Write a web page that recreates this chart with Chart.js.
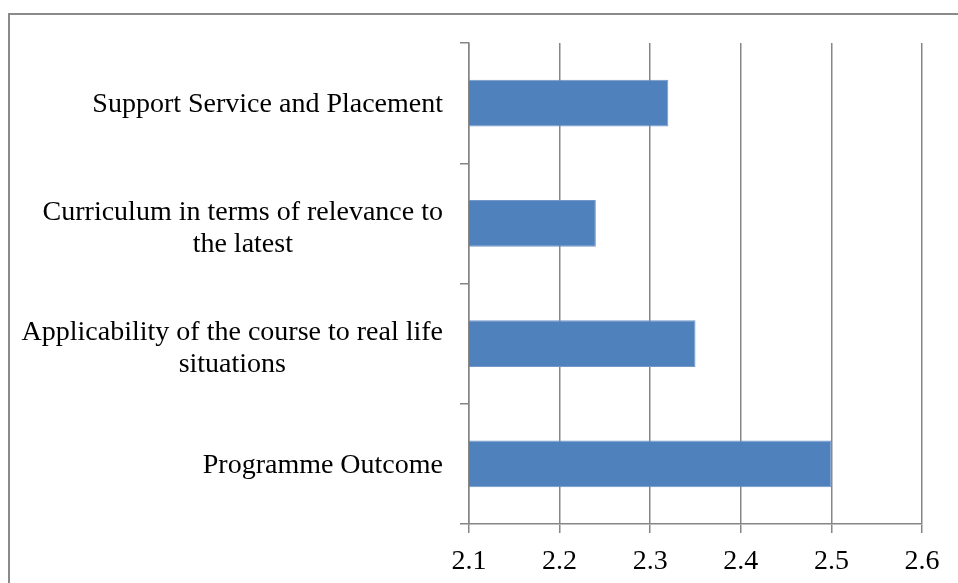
<!DOCTYPE html>
<html>
<head>
<meta charset="utf-8">
<script src="https://cdn.jsdelivr.net/npm/chart.js@4/dist/chart.umd.min.js"></script>
<style>
  html, body { margin: 0; padding: 0; background: #ffffff; overflow: hidden; }
  #frame { position: absolute; left: 8px; top: 13px; width: 1000px; height: 700px; border: 2px solid #8a8a8a; box-sizing: border-box; }
  #wrap { position: absolute; left: 0; top: 0; width: 958px; height: 583px; }
</style>
</head>
<body>
<div id="frame"></div>
<div id="wrap"><canvas id="c" width="958" height="583"></canvas></div>
<script>
const categories = [
  "Support Service and Placement",
  ["Curriculum in terms of relevance to", "the latest"],
  ["Applicability of the course to real life", "situations"],
  "Programme Outcome"
];
const values = [2.32, 2.24, 2.35, 2.5];
const xTicks = [2.1, 2.2, 2.3, 2.4, 2.5, 2.6];

const FONT = '"Liberation Serif", "Times New Roman", serif';
const FSIZE = 28;
const GRID = '#868686';

const labelPlugin = {
  id: 'blockLabels',
  afterDraw(chart) {
    const scale = chart.scales.y;
    const ctx = chart.ctx;
    ctx.save();
    ctx.font = FSIZE + 'px ' + FONT;
    ctx.fillStyle = '#000000';
    ctx.textBaseline = 'middle';
    ctx.textAlign = 'center';
    const right = scale.right - 26;
    const lh = 32;
    categories.forEach((lab, i) => {
      const lines = Array.isArray(lab) ? lab : [lab];
      const widest = Math.max(...lines.map(l => ctx.measureText(l).width));
      const cx = right - widest / 2;
      const cy = scale.getPixelForTick(i) + (lines.length > 1 ? 5 : 1.5);
      lines.forEach((l, j) => {
        ctx.fillText(l, cx, cy + (j - (lines.length - 1) / 2) * lh);
      });
    });
    ctx.restore();
  }
};

new Chart(document.getElementById('c'), {
  type: 'bar',
  data: {
    labels: categories,
    datasets: [{
      data: values,
      backgroundColor: '#4f81bd',
      borderColor: '#7397c9',
      borderWidth: 1,
      borderSkipped: 'start',
      barPercentage: 0.39,
      categoryPercentage: 1.0
    }]
  },
  options: {
    indexAxis: 'y',
    responsive: false,
    animation: false,
    devicePixelRatio: 1,
    layout: { padding: { top: 43, right: 36, left: 0, bottom: 0 } },
    plugins: { legend: { display: false }, tooltip: { enabled: false } },
    scales: {
      x: {
        type: 'linear',
        min: 2.1,
        max: 2.6,
        afterBuildTicks(scale) { scale.ticks = xTicks.map(v => ({ value: v })); },
        afterFit(scale) { scale.height = 59; },
        ticks: {
          font: { family: FONT, size: FSIZE },
          color: '#000000',
          padding: 12,
          callback: (v) => Number(v).toFixed(1)
        },
        grid: { color: GRID, lineWidth: 1.5, tickLength: 9, drawTicks: true },
        border: { display: true, color: GRID, width: 1.5 }
      },
      y: {
        type: 'category',
        offset: true,
        afterFit(scale) { scale.width = 469; },
        ticks: { display: false },
        grid: { offset: true, drawOnChartArea: false, drawTicks: true, tickLength: 9, color: GRID, lineWidth: 1.5 },
        border: { display: true, color: GRID, width: 1.5 }
      }
    }
  },
  plugins: [labelPlugin]
});
</script>
</body>
</html>
